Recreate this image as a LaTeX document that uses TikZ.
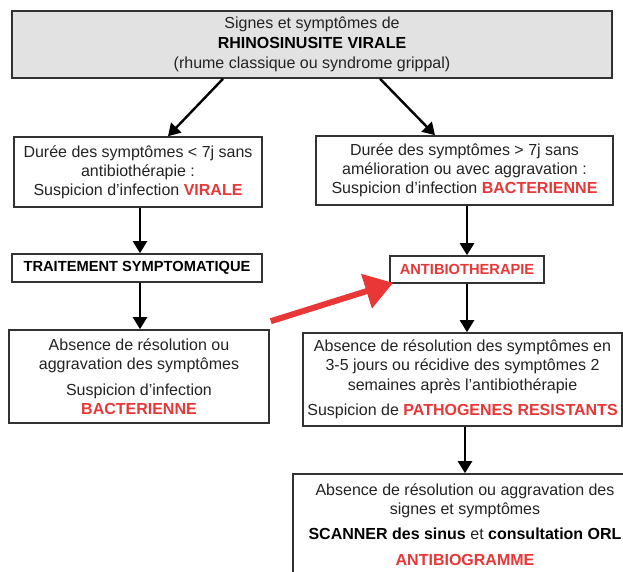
\documentclass[tikz,border=0pt]{standalone}
\usepackage{fontspec}
\setmainfont{Liberation Sans}
\usetikzlibrary{arrows.meta}
\definecolor{rd}{RGB}{233,55,55}
\definecolor{bd}{RGB}{50,50,50}
\definecolor{tx}{RGB}{35,35,35}
\definecolor{gr}{RGB}{226,226,226}
\newcommand{\rb}[1]{\textcolor{rd}{\textbf{#1}}}
\begin{document}
\begin{tikzpicture}[x=0.75pt,y=-0.75pt,
  box/.style={draw=bd,line width=1.2pt,align=center,inner sep=0pt,text=tx,
    font=\fontsize{12}{14.4}\selectfont},
  arr/.style={line width=1.8pt,-{Triangle[length=9pt,width=10.5pt]}},
  redarr/.style={draw=rd,line width=4.5pt,-{Triangle[length=21pt,width=26pt]}}
]
\clip (0,0) rectangle (623,571);
\fill[white] (0,0) rectangle (623,571);

\node[box,fill=gr,minimum width=450pt,minimum height=50.25pt,font=\fontsize{12}{15}\selectfont] (top) at (312,44.5)
  {Signes et symptômes de\\\textbf{\color{black}RHINOSINUSITE VIRALE}\\(rhume classique ou syndrome grippal)};

\node[box,minimum width=186pt,minimum height=52.5pt] (l1) at (138,172)
  {Durée des symptômes < 7j sans\\antibiothérapie :\\Suspicion d’infection \rb{VIRALE}};

\node[box,minimum width=222.75pt,minimum height=51.75pt] (r1) at (464.5,170.5)
  {Durée des symptômes > 7j sans\\amélioration ou avec aggravation :\\Suspicion d’infection \rb{BACTERIENNE}};

\node[box,minimum width=187.5pt,minimum height=21pt,font=\fontsize{11}{13}\selectfont\bfseries,text=black] (t) at (137,268)
  {TRAITEMENT SYMPTOMATIQUE};

\node[box,minimum width=115.5pt,minimum height=20.25pt,font=\fontsize{11}{13}\selectfont\bfseries,text=rd] (a) at (467,269.5)
  {ANTIBIOTHERAPIE};

\node[box,minimum width=195pt,minimum height=69.75pt] (l2) at (139,376.5)
  {Absence de résolution ou\\aggravation des symptômes\\[5pt]Suspicion d’infection\\\rb{BACTERIENNE}};

\node[box,minimum width=239.25pt,minimum height=69.75pt] (r2) at (462.5,379.5)
  {Absence de résolution des symptômes en\\3-5 jours ou récidive des symptômes 2\\semaines après l’antibiothérapie\\[5pt]Suspicion de \rb{PATHOGENES RESISTANTS}};

\node[box,minimum width=258pt,minimum height=75.75pt] (r3) at (465,524.5)
  {Absence de résolution ou aggravation des\\signes et symptômes\\[4pt]{\color{black}\textbf{SCANNER des sinus}} et {\color{black}\textbf{consultation ORL}}\\[5pt]\rb{ANTIBIOGRAMME}};

\draw[arr] ([shift={(-89,0)}]top.south) -- ([shift={(30,0)}]l1.north);
\draw[arr] ([shift={(68,0)}]top.south) -- ([shift={(-29.5,0)}]r1.north);
\draw[arr] ([shift={(2,0)}]l1.south) -- ([shift={(2,0)}]l1.south |- t.north);
\draw[arr] (a.north |- r1.south) -- (a.north);
\draw[arr] ([shift={(3,0)}]t.south) -- ([shift={(3,0)}]t.south |- l2.north);
\draw[arr] (a.south) -- (a.south |- r2.north);
\draw[arr] (r3.north |- r2.south) -- (r3.north);

\draw[redarr] ([shift={(1,-8)}]l2.north east) -- ([shift={(4,-1)}]a.south west);
\end{tikzpicture}
\end{document}
